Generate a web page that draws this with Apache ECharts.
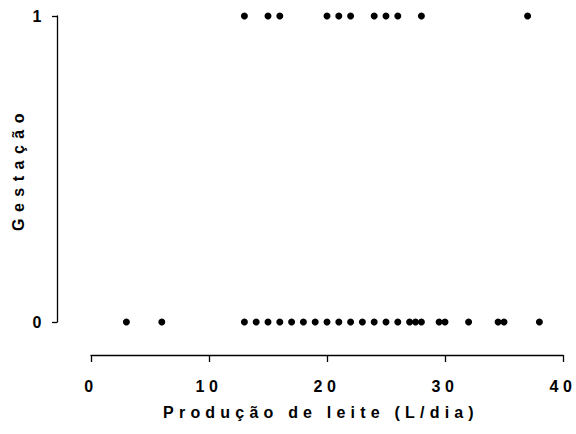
<!DOCTYPE html>
<html>
<head>
<meta charset="utf-8">
<script src="https://cdn.jsdelivr.net/npm/echarts@6/dist/echarts.min.js"></script>
<style>
html,body{margin:0;padding:0;background:#fff;}
#chart{width:576px;height:434px;}
#chart text{letter-spacing:4.5px;}
</style>
</head>
<body>
<div id="chart"></div>
<script>
// Produção de leite (L/dia) for cows with Gestação = 1
const prodGest1 = [13, 15, 16, 20, 21, 22, 24, 25, 26, 28, 37];
// Produção de leite (L/dia) for cows with Gestação = 0
const prodGest0 = [3, 6, 13, 14, 15, 16, 17, 18, 19, 20, 21, 22, 23, 24, 25, 26, 27, 27.5, 28, 29.5, 30, 32, 34.5, 35, 38];
const xTicks = [0, 10, 20, 30, 40];
const yTicks = [0, 1];
const xTitle = 'Produção de leite (L/dia)';
const yTitle = 'Gestação';

const chart = echarts.init(document.getElementById('chart'), null, {renderer: 'svg'});
const font = {fontFamily: '"Liberation Sans", Arial, sans-serif', fontWeight: 'bold', fontSize: 16, color: '#000'};
chart.setOption({
  animation: false,
  backgroundColor: '#fff',
  grid: {left: 91, right: 13, top: 16, bottom: 112, containLabel: false},
  xAxis: {
    type: 'value', min: xTicks[0], max: xTicks[xTicks.length - 1], interval: 10,
    position: 'bottom', offset: 33,
    axisLine: {show: true, onZero: false, lineStyle: {color: '#000', width: 1.3}},
    axisTick: {show: true, length: 7, lineStyle: {color: '#000', width: 1.3}},
    splitLine: {show: false},
    axisLabel: Object.assign({margin: 23}, font),
    name: xTitle, nameLocation: 'middle', nameGap: 49,
    nameTextStyle: Object.assign({padding: [0, 12, 0, 0]}, font)
  },
  yAxis: {
    type: 'value', min: yTicks[0], max: yTicks[yTicks.length - 1], interval: 1,
    position: 'left', offset: 34,
    axisLine: {show: true, onZero: false, lineStyle: {color: '#000', width: 1.3}},
    axisTick: {show: true, length: 5, lineStyle: {color: '#000', width: 1.3}},
    splitLine: {show: false},
    axisLabel: Object.assign({margin: 11}, font),
    name: yTitle, nameLocation: 'middle', nameGap: 25, nameRotate: 90,
    nameTextStyle: Object.assign({}, font)
  },
  series: [
    {type: 'scatter', symbol: 'circle', symbolSize: 7, itemStyle: {color: '#000', opacity: 1},
     data: prodGest1.map(v => [v, 1])},
    {type: 'scatter', symbol: 'circle', symbolSize: 7, itemStyle: {color: '#000', opacity: 1},
     data: prodGest0.map(v => [v, 0])}
  ]
});
function spaceTitles() {
  document.querySelectorAll('#chart text').forEach(t => {
    if (t.textContent === yTitle) t.style.letterSpacing = '6.5px';
    else if (t.textContent === xTitle) t.style.letterSpacing = '5.2px';
  });
}
spaceTitles();
chart.on('finished', spaceTitles);
</script>
</body>
</html>
